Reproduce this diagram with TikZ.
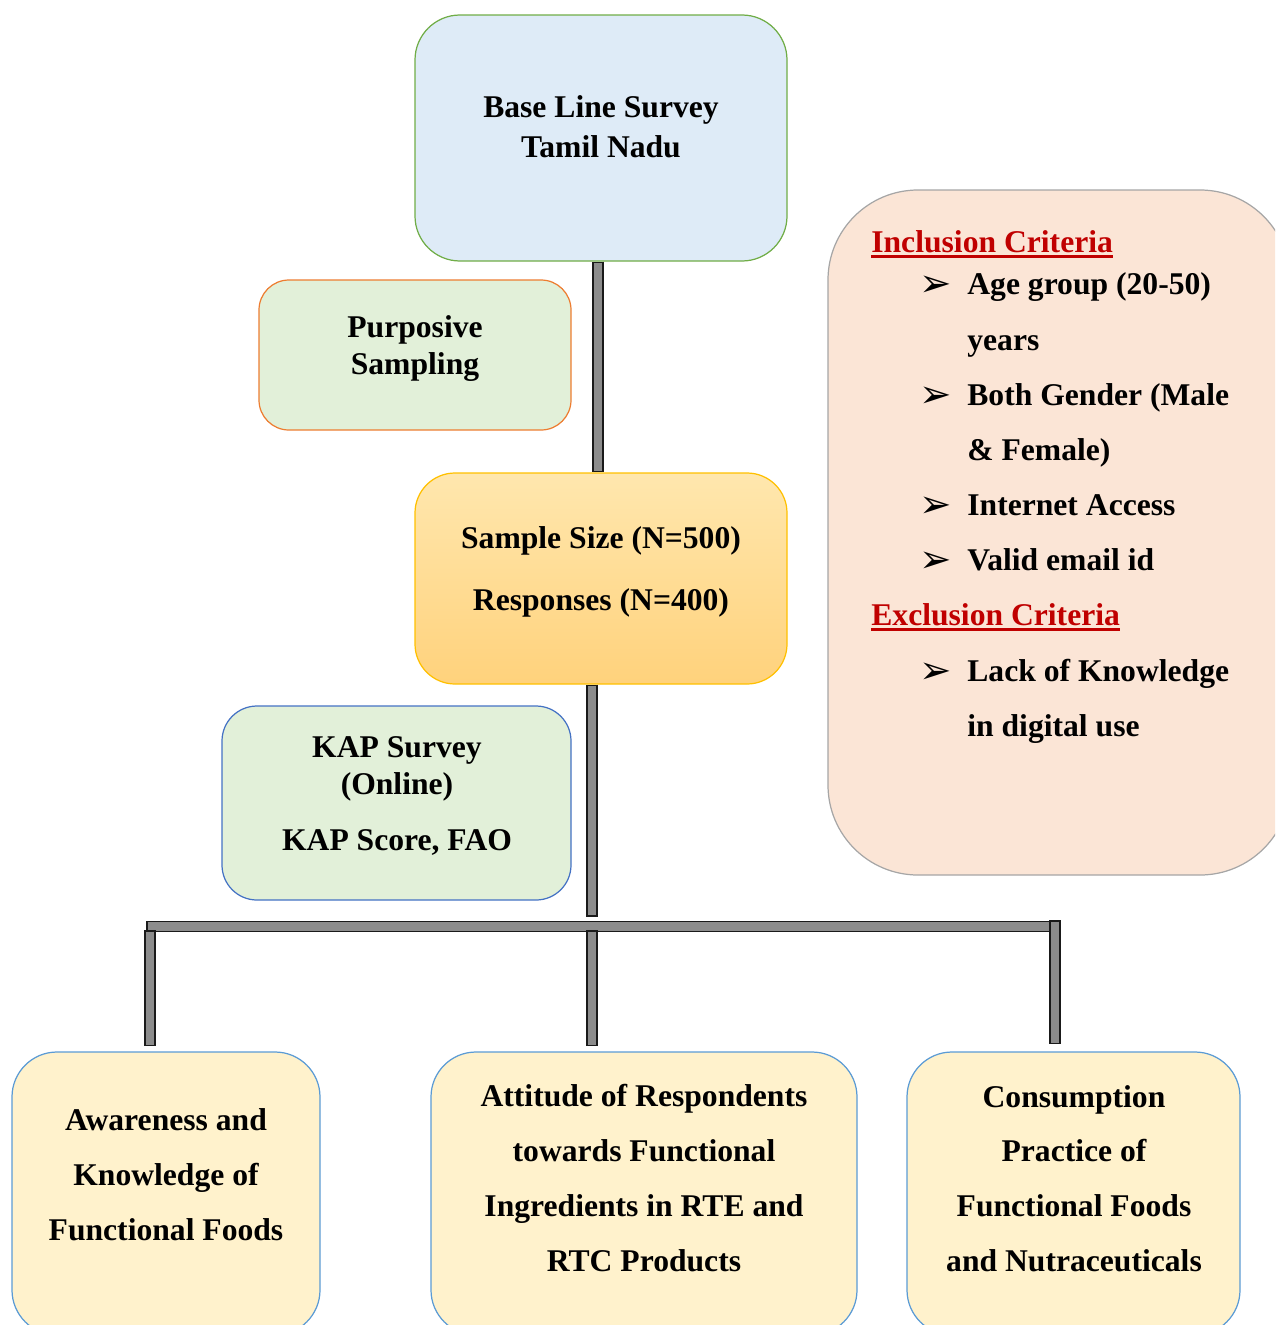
\documentclass[tikz,border=0pt]{standalone}
\usepackage{fontspec}
\setmainfont{Liberation Serif}
\newfontfamily\dejavu{DejaVu Sans}
\usetikzlibrary{fit}
\definecolor{basefill}{HTML}{DEEBF7}
\definecolor{basedraw}{HTML}{70AD47}
\definecolor{greenfill}{HTML}{E2F0D9}
\definecolor{orangedraw}{HTML}{ED7D31}
\definecolor{bluedraw}{HTML}{4472C4}
\definecolor{sampletop}{HTML}{FFE7AE}
\definecolor{samplebot}{HTML}{FFD27C}
\definecolor{sampledraw}{HTML}{FFC000}
\definecolor{critfill}{HTML}{FBE5D6}
\definecolor{critdraw}{HTML}{A6A6A6}
\definecolor{outfill}{HTML}{FFF2CC}
\definecolor{outdraw}{HTML}{5B9BD5}
\definecolor{critred}{HTML}{C00000}
\definecolor{bargray}{HTML}{8C8C8C}
\definecolor{barline}{HTML}{1A1A1A}
\begin{document}
\begin{tikzpicture}[x=0.02cm,y=-0.02cm,
  box/.style={draw, line width=0.7pt, inner sep=0pt, rectangle},
  txt/.style={font=\fontsize{18}{22.7}\selectfont\bfseries, align=center, inner sep=0pt},
  itm/.style={font=\fontsize{18}{22}\selectfont\bfseries, inner sep=0pt, anchor=base west},
  bul/.style={font=\dejavu\fontsize{22}{24}\selectfont, inner sep=0pt, anchor=base west},
  bar/.style={draw=barline, line width=6.6pt, postaction={draw=bargray, line width=4.8pt, shorten <=0.9pt, shorten >=0.9pt}}
]
\useasboundingbox (0,0) rectangle (1275,1325);
\clip (0,0) rectangle (1275,1325);

% boxes
\node[box, draw=basedraw, fill=basefill, rounded corners=0.9cm, fit={(415,15) (787,261)}] (base) {};
\node[box, draw=orangedraw, fill=greenfill, rounded corners=0.6cm, fit={(259,280) (571,430)}] (purp) {};
\node[box, draw=sampledraw, top color=sampletop, bottom color=samplebot, rounded corners=0.8cm, fit={(415,473) (787,684)}] (sample) {};
\node[box, draw=bluedraw, fill=greenfill, rounded corners=0.7cm, fit={(222,706) (571,900)}] (kap) {};
\node[box, draw=critdraw, fill=critfill, rounded corners=1.8cm, fit={(828,190) (1290,875)}] (crit) {};
\node[box, draw=outdraw, fill=outfill, rounded corners=0.9cm, fit={(12,1052) (320,1335)}] (aw) {};
\node[box, draw=outdraw, fill=outfill, rounded corners=0.9cm, fit={(431,1052) (857,1335)}] (att) {};
\node[box, draw=outdraw, fill=outfill, rounded corners=0.9cm, fit={(907,1052) (1240,1335)}] (con) {};

% box texts
\node[txt] (baset) at (601,127) {Base Line Survey\\Tamil Nadu};
\node[txt, font=\fontsize{18}{21}\selectfont\bfseries] (purpt) at (415,348.5) {Purposive\\Sampling};
\node[txt, font=\fontsize{18}{35.2}\selectfont\bfseries] (samplet) at (601,571.5) {Sample Size (N=500)\\Responses (N=400)};
\node[txt, font=\fontsize{18}{21}\selectfont\bfseries] (kapt) at (397,796) {KAP Survey\\(Online)\\[11.3pt]KAP Score, FAO};
\node[txt, font=\fontsize{18}{31.2}\selectfont\bfseries] (awt) at (166,1175) {Awareness and\\Knowledge of\\Functional Foods};
\node[txt, font=\fontsize{18}{31.2}\selectfont\bfseries] (attt) at (644,1178) {Attitude of Respondents\\towards Functional\\Ingredients in RTE and\\RTC Products};
\node[txt, font=\fontsize{18}{31.2}\selectfont\bfseries] (cont) at (1074,1178.5) {Consumption\\Practice of\\Functional Foods\\and Nutraceuticals};

% criteria text
\node[itm, text=critred] (inc) at (871,252) {Inclusion Criteria};
\draw[critred, line width=1.7pt] ([yshift=-2.6pt]inc.base west) -- ([yshift=-2.6pt]inc.base east);
\node[bul] (b1) at (919,296) {➢};
\node[itm] (i1) at (967,294) {Age group (20-50)};
\node[itm] (i1b) at (967,350) {years};
\node[bul] (b2) at (919,407) {➢};
\node[itm] (i2) at (967,405) {Both Gender (Male};
\node[itm] (i2b) at (967,460) {\& Female)};
\node[bul] (b3) at (919,517) {➢};
\node[itm] (i3) at (967,515) {Internet Access};
\node[bul] (b4) at (919,572) {➢};
\node[itm] (i4) at (967,570) {Valid email id};
\node[itm, text=critred] (exc) at (871,625) {Exclusion Criteria};
\draw[critred, line width=1.7pt] ([yshift=-2.6pt]exc.base west) -- ([yshift=-2.6pt]exc.base east);
\node[bul] (b5) at (919,683) {➢};
\node[itm] (e1) at (967,681) {Lack of Knowledge};
\node[itm] (e1b) at (967,736) {in digital use};

% connectors
\coordinate (jt) at (592,917);
\coordinate (hl) at (146,926.5);
\coordinate (hr) at (1052,926.5);
\coordinate (lt) at (150,930);
\coordinate (mt) at (592,930);
\coordinate (rt) at (1055,920);
\draw[bar] ([xshift=-0.06cm]base.south) -- ([xshift=-0.06cm]sample.north);
\draw[bar] (sample.south -| jt) -- (jt);
\draw[bar] (hl) -- (hr);
\draw[bar] (lt) -- ([yshift=0.1cm]aw.north -| lt);
\draw[bar] (mt) -- ([yshift=0.1cm]att.north -| mt);
\draw[bar] (rt) -- ([yshift=0.14cm]con.north -| rt);
\end{tikzpicture}
\end{document}
